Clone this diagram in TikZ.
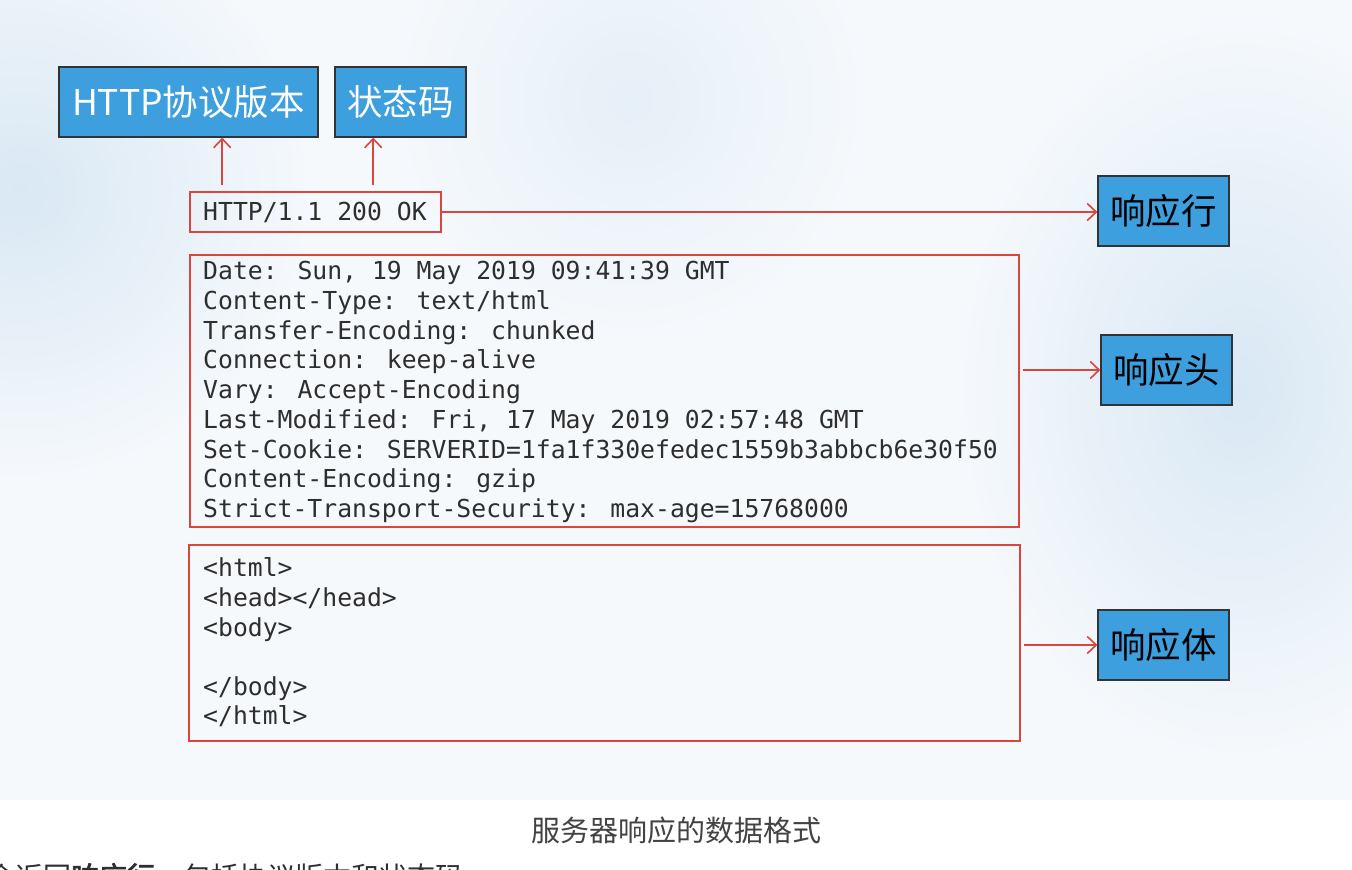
\documentclass[tikz,border=0pt]{standalone}
\usepackage{fontspec}
\newfontfamily\cjk{Noto Sans CJK SC}
\newfontfamily\cjkb[FakeBold=2.5]{Noto Sans CJK SC}
\newfontfamily\mono{DejaVu Sans Mono}
\usetikzlibrary{arrows.meta}
\definecolor{bg}{HTML}{F6F9FC}
\definecolor{haze}{HTML}{D9E8F4}
\definecolor{boxblue}{HTML}{3E9FDF}
\definecolor{redl}{HTML}{D9463D}
\definecolor{ink}{HTML}{2E2E2E}
\begin{document}
\begin{tikzpicture}[x=1pt,y=-1pt,
  lbl/.style={draw=black!80,line width=1.2pt,fill=boxblue,inner sep=0,minimum width=131pt,minimum height=70pt,font=\cjk\fontsize{35.5}{40}\selectfont},
  redbox/.style={draw=redl,line width=1.6pt,inner sep=0},
  code/.style={anchor=base west,inner sep=0,text=ink,font=\mono\fontsize{24.75}{30}\selectfont},
  arr/.style={draw=redl,line width=1.6pt,-{Straight Barb[length=9pt,width=17pt,line width=1.6pt]}}]
\useasboundingbox (0,0) rectangle (1352,870);
\clip (0,0) rectangle (1352,870);
% background
\fill[bg] (0,0) rectangle (1352,870);
\shade[inner color=haze,outer color=bg] (20,190) circle (300);
\shade[inner color=haze,outer color=bg] (1240,390) ellipse (290 and 380);
\shade[inner color=haze!55!bg,outer color=bg] (630,100) circle (250);
\fill[white] (0,800) rectangle (1352,870);

% label boxes
\node[lbl,minimum width=259pt,text=white] (ver) at (188.5,102) {HTTP协议版本};
\node[lbl,text=white] (sc) at (400.5,102) {状态码};
\node[lbl,text=black] (rl) at (1163.5,211) {响应行};
\node[lbl,text=black] (rh) at (1166.5,370) {响应头};
\node[lbl,text=black] (rb) at (1163.5,645) {响应体};

% red boxes
\node[redbox,minimum width=251pt,minimum height=40pt] (line) at (315.5,212) {};
\node[redbox,minimum width=829pt,minimum height=272pt] (hdr) at (604.5,391) {};
\node[redbox,minimum width=831pt,minimum height=196pt] (body) at (604.5,643) {};

% text
\node[code] (t0) at (203,220) {HTTP/1.1 200 OK};
\node[code] (h1) at (203,279) {Date: Sun, 19 May 2019 09:41:39 GMT};
\node[code] (h2) at (203,309) {Content-Type: text/html};
\node[code] (h3) at (203,339) {Transfer-Encoding: chunked};
\node[code] (h4) at (203,368) {Connection: keep-alive};
\node[code] (h5) at (203,398) {Vary: Accept-Encoding};
\node[code] (h6) at (203,428) {Last-Modified: Fri, 17 May 2019 02:57:48 GMT};
\node[code] (h7) at (203,458) {Set-Cookie: SERVERID=1fa1f330efedec1559b3abbcb6e30f50};
\node[code] (h8) at (203,487) {Content-Encoding: gzip};
\node[code] (h9) at (203,517) {Strict-Transport-Security: max-age=15768000};
\node[code] (b1) at (203,576) {<html>};
\node[code] (b2) at (203,606) {<head></head>};
\node[code] (b3) at (203,636) {<body>};
\node[code] (b4) at (203,695) {</body>};
\node[code] (b5) at (203,724) {</html>};

% arrows
\coordinate (a1) at ([shift={(33,-6)}]line.north west);
\coordinate (a2) at ([shift={(184,-6)}]line.north west);
\draw[arr] (a1) -- (a1 |- ver.south);
\draw[arr] (a2) -- (a2 |- sc.south);
\draw[arr] (line.east) -- (line.east -| rl.west);
\draw[arr,shorten <=3pt] (rh.west -| hdr.east) -- (rh.west);
\draw[arr,shorten <=3pt] (rb.west -| body.east) -- (rb.west);

% caption
\node[text=ink!90,font=\cjk\fontsize{29}{32}\selectfont] (cap) at (676,830) {服务器响应的数据格式};
\node[anchor=base west,inner sep=0,text=ink,font=\cjk\fontsize{28}{32}\selectfont] (para) at (-13,887) {会返回{\cjkb 响应行}，包括协议版本和状态码};
\end{tikzpicture}
\end{document}
